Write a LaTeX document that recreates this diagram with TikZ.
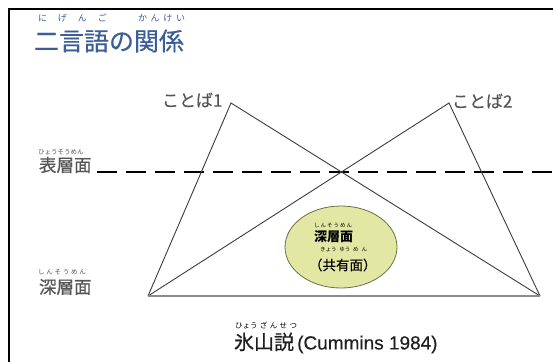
\documentclass[tikz,border=0pt]{standalone}
\usepackage{fontspec}
\usetikzlibrary{shapes.geometric}
\setmainfont{Noto Sans CJK JP}
\newfontfamily\jpf{Noto Sans CJK JP}
\newfontfamily\jph[FakeBold=0.5]{Noto Sans CJK JP}
\newfontfamily\latf[FakeBold=0.3]{Liberation Sans}
\definecolor{ttl}{HTML}{3B5E96}
\definecolor{lbl}{HTML}{555555}
\definecolor{ellfill}{HTML}{E2E8A4}
\definecolor{elldraw}{HTML}{6E6E40}
\definecolor{tri}{HTML}{3C3C3C}
\newcommand{\fs}[1]{\fontsize{#1}{#1}\selectfont}
\newcommand{\spread}[2]{\makebox[#1][s]{#2}}
\tikzset{
  txt/.style={inner sep=0pt, outer sep=0pt, anchor=west},
  ruby/.style={txt, font=\jpf\fs{6.5}},
  sideLabel/.style={txt, text=lbl, font=\jph\fs{17.5}},
  wordLabel/.style={txt, text=lbl, font=\jph\fs{17}},
  triline/.style={draw=tri, line width=0.9pt},
}
\begin{document}
\begin{tikzpicture}[x=1pt,y=-1pt]
\useasboundingbox (0,0) rectangle (553,362);
\fill[white] (0,0) rectangle (553,362);
% frame
\draw[line width=1.5pt] (9,362) -- (9,9) -- (553,9);
% title
\node[txt, text=ttl, font=\jph\fs{25}] (title) at (34,41) {二言語の関係};
\node[txt, text=ttl, font=\jpf\fs{9}] (rt1) at (38,18) {\spread{69pt}{に\hfill げ\hfill ん\hfill ご}};
\node[txt, text=ttl, font=\jpf\fs{9}] (rt2) at (138,18) {\spread{47pt}{か\hfill ん\hfill け\hfill い}};
% side labels
\node[ruby, text=lbl] (r1) at (38,152) {\spread{44pt}{ひょう\hfill そ\hfill う\hfill め\hfill ん}};
\node[sideLabel] (hyoso) at (39,165) {表層面};
\node[ruby, text=lbl] (r2) at (38,272) {\spread{48pt}{し\hfill ん\hfill そ\hfill う\hfill め\hfill ん}};
\node[sideLabel] (shinso) at (39,287) {深層面};
% kotoba labels
\node[wordLabel] (k1) at (162,100) {ことば1};
\node[wordLabel] (k2) at (452,101) {ことば2};
% geometry
\coordinate (a1) at (231,103);
\coordinate (a2) at (449,103);
\coordinate (bl) at (148,296);
\coordinate (br) at (540,296);
\coordinate (d1) at (97,172);
\coordinate (d2) at (553,172);
\draw[black, line width=2.6pt, dash pattern=on 20pt off 9pt] (d1) -- (d2);
\draw[triline] (bl) -- (a1) -- (br);
\draw[triline] (bl) -- (a2) -- (br);
\draw[draw=gray!90, line width=1.4pt] (bl) -- (br);
% ellipse
\node[draw=elldraw, fill=ellfill, line width=0.8pt, ellipse, minimum width=112pt, minimum height=82pt] (ell) at (341,247) {};
\node[ruby, font=\jpf\fs{5.5}] (r3) at (314,225) {\spread{38pt}{し\hfill ん\hfill そ\hfill う\hfill め\hfill ん}};
\node[txt, font=\jpf\bfseries\fs{13}] (e1) at (314,237) {深層面};
\node[ruby, font=\jpf\fs{5.5}] (r4) at (320,249) {\spread{47pt}{きょう\hfill ゆう\hfill め\hfill ん}};
\node[txt, font=\jph\fs{13.5}] (e2) at (309,265) {（共有面）};
% bottom caption
\node[ruby, font=\jpf\fs{7.5}] (r5) at (235,325) {\spread{62pt}{ひょう\hfill ざ\hfill ん\hfill せ\hfill つ}};
\node[txt, text=black!88, font=\jph\fs{20}] (cap) at (234,343) {氷山説{\latf\fs{19}\,(Cummins 1984)}};
\end{tikzpicture}
\end{document}
